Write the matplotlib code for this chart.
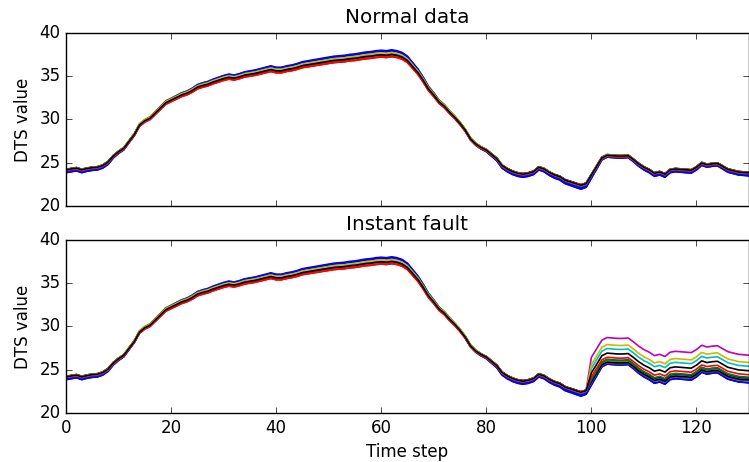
import numpy as np
import matplotlib
matplotlib.use("Agg")
import matplotlib.pyplot as plt

# DTS reading of the middle sensor, one value per time step (0..130)
base = [24.2, 24.3, 24.4, 24.2, 24.35, 24.45, 24.5, 24.7, 25.1, 25.8,
        26.3, 26.7, 27.5, 28.3, 29.4, 29.9, 30.2, 30.8, 31.4, 32.0,
        32.3, 32.6, 32.9, 33.1, 33.4, 33.8, 34.0, 34.15, 34.4, 34.6,
        34.8, 34.95, 34.85, 35.0, 35.2, 35.3, 35.4, 35.55, 35.7, 35.85,
        35.7, 35.7, 35.85, 35.95, 36.1, 36.3, 36.4, 36.5, 36.6, 36.7,
        36.8, 36.9, 36.95, 37.0, 37.1, 37.15, 37.25, 37.35, 37.4, 37.5,
        37.55, 37.5, 37.6, 37.5, 37.3, 36.9, 36.2, 35.5, 34.6, 33.6,
        32.9, 32.1, 31.6, 30.9, 30.3, 29.6, 28.8, 27.8, 27.2, 26.8,
        26.5, 26.0, 25.5, 24.7, 24.3, 24.0, 23.8, 23.7, 23.8, 24.0,
        24.5, 24.3, 23.9, 23.6, 23.4, 23.0, 22.8, 22.6, 22.4, 22.6,
        23.6, 24.6, 25.6, 25.9, 25.85, 25.8, 25.8, 25.85, 25.4, 24.9,
        24.5, 24.2, 23.8, 23.95, 23.7, 24.2, 24.3, 24.25, 24.2, 24.15,
        24.5, 25.0, 24.8, 24.9, 24.95, 24.6, 24.25, 24.1, 23.95, 23.9,
        23.85]

# per-sensor deviation from the middle sensor (gain about 30 degrees + shift)
gain = [0.060, 0.000, -0.020, 0.010, 0.000, 0.020, 0.000,
        0.052, 0.005, -0.025, 0.005, 0.005, 0.015, 0.005,
        0.044, -0.005, -0.015, 0.000, -0.005, 0.010, -0.005]
shift = [0.00, -0.05, -0.18, 0.00, 0.00, 0.12, 0.05,
         -0.03, -0.10, -0.12, 0.05, -0.05, 0.08, 0.00,
         0.02, 0.00, -0.22, -0.05, 0.00, 0.05, -0.05]

# offsets added to the faulty sensors from the fault step on
fault_start = 100
fault_offset = [0.0, 0.0, 0.0, 0.0, 0.0, 0.0, 0.0,
                0.0, 0.0, 0.0, 0.0, 0.0, 0.0, 0.0,
                0.45, 0.25, 0.7, 1.6, 2.8, 2.0, 1.05]

plt.style.use('classic')

t = np.arange(len(base))
b = np.array(base)
normal = [b + s + g * (b - 30) for g, s in zip(gain, shift)]
faulty = [n + np.where(t >= fault_start, f, 0.0) for n, f in zip(normal, fault_offset)]

fig = plt.figure(figsize=(7.49, 4.62), facecolor='white')
ax1 = fig.add_axes([0.0881, 0.5541, 0.9119, 0.3745])
ax2 = fig.add_axes([0.0881, 0.1061, 0.9119, 0.3745], sharex=ax1)

for ax, series, title in [(ax1, normal, 'Normal data'), (ax2, faulty, 'Instant fault')]:
    for y in series:
        ax.plot(t, y, linewidth=1.2)
    ax.set_xlim(0, 130)
    ax.set_ylim(20, 40)
    ax.set_yticks([20, 25, 30, 35, 40])
    ax.set_xticks([0, 20, 40, 60, 80, 100, 120])
    ax.set_title(title, y=1.02)
    ax.set_ylabel('DTS value')

plt.setp(ax1.get_xticklabels(), visible=False)
ax2.set_xlabel('Time step')

fig.savefig('out.png', dpi=100, facecolor='white')
